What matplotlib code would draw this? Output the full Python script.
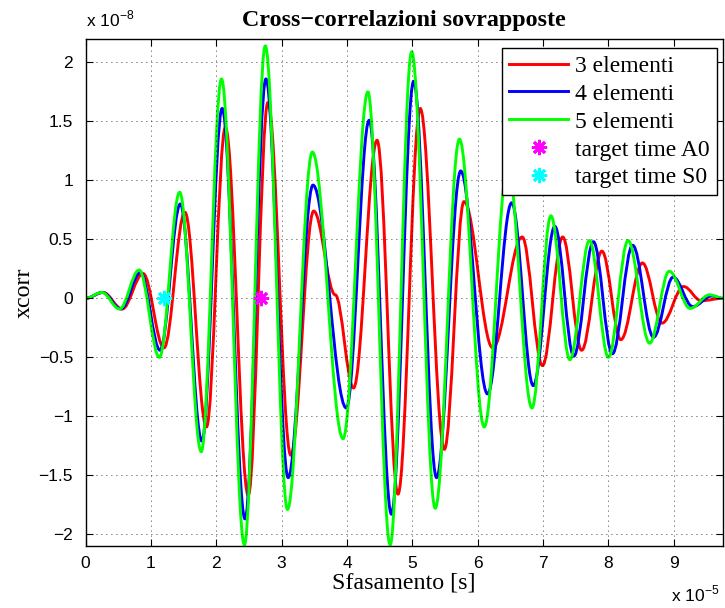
import numpy as np
import matplotlib.pyplot as plt
from matplotlib.path import Path
from matplotlib.patches import PathPatch
from matplotlib.lines import Line2D

# picchi e valli delle cross-correlazioni (x in 1e-5 s, y in 1e-8)
x3 = [0, 0.27, 0.56, 0.88, 1.20, 1.52, 1.85, 2.14, 2.49, 2.79, 3.14, 3.49, 3.82, 4.10, 4.46,
      4.78, 5.12, 5.49, 5.79, 6.23, 6.68, 6.99, 7.30, 7.59, 7.90, 8.19, 8.52, 8.82, 9.15, 9.42, 9.75]
y3 = [0, 0.05, -0.09, 0.21, -0.42, 0.73, -1.09, 1.45, -1.67, 1.66, -1.33, 0.74, 0.03, -0.76, 1.34,
      -1.66, 1.61, -1.28, 0.82, -0.42, 0.52, -0.57, 0.52, -0.44, 0.40, -0.35, 0.30, -0.21, 0.10, -0.02, 0]

x4 = [0, 0.26, 0.54, 0.84, 1.14, 1.45, 1.78, 2.09, 2.44, 2.76, 3.10, 3.48, 3.99, 4.34, 4.68,
      5.02, 5.37, 5.74, 6.15, 6.52, 6.85, 7.18, 7.47, 7.77, 8.06, 8.37, 8.69, 8.99, 9.29, 9.58, 9.75]
y4 = [0, 0.05, -0.09, 0.22, -0.44, 0.80, -1.21, 1.61, -1.87, 1.86, -1.52, 0.96, -0.93, 1.51, -1.83,
      1.84, -1.52, 1.08, -0.81, 0.81, -0.74, 0.61, -0.49, 0.48, -0.47, 0.45, -0.33, 0.18, -0.07, 0.02, 0]

x5 = [0, 0.25, 0.52, 0.82, 1.13, 1.44, 1.77, 2.08, 2.43, 2.75, 3.09, 3.47, 3.94, 4.32, 4.66,
      4.99, 5.35, 5.72, 6.10, 6.46, 6.83, 7.12, 7.41, 7.71, 8.00, 8.30, 8.63, 8.93, 9.25, 9.55, 9.75]
y5 = [0, 0.05, -0.09, 0.24, -0.50, 0.90, -1.30, 1.86, -2.09, 2.14, -1.79, 1.24, -1.19, 1.75, -2.09,
      2.09, -1.78, 1.35, -1.09, 1.12, -0.93, 0.70, -0.52, 0.49, -0.50, 0.49, -0.38, 0.23, -0.085, 0.03, 0]

tA0 = 2.68
tS0 = 1.20

serif = ['Liberation Serif', 'DejaVu Serif']
sans = ['Liberation Sans', 'DejaVu Sans']


def curva(x, y):
    # tratti cubici con tangente orizzontale in ogni picco/valle
    verts = [(x[0], y[0])]
    codes = [Path.MOVETO]
    for i in range(len(x) - 1):
        d = 0.364 * (x[i + 1] - x[i])
        verts += [(x[i] + d, y[i]), (x[i + 1] - d, y[i + 1]), (x[i + 1], y[i + 1])]
        codes += [Path.CURVE4] * 3
    return Path(verts, codes)


fig = plt.figure(figsize=(7.25, 6.08), dpi=100)
ax = fig.add_axes([0.118, 0.102, 0.879, 0.834])

for x, y, c in [(x3, y3, 'red'), (x4, y4, 'blue'), (x5, y5, 'lime')]:
    ax.add_patch(PathPatch(curva(x, y), facecolor='none', edgecolor=c, lw=2.1, capstyle='round'))

ax.plot([tA0], [0], ls='none', marker=(8, 2, 0), ms=11, mew=2, color='magenta', zorder=5)
ax.plot([tS0], [0], ls='none', marker=(8, 2, 0), ms=11, mew=2, color='cyan', zorder=5)

ax.set_xlim(0, 9.75)
ax.set_ylim(-2.1, 2.2)
ax.set_xticks(range(0, 10))
ax.set_yticks([-2, -1.5, -1, -0.5, 0, 0.5, 1, 1.5, 2])
ax.set_yticklabels(['\u22122', '\u22121.5', '\u22121', '\u22120.5', '0', '0.5', '1', '1.5', '2'])
ax.tick_params(direction='in', top=True, right=True, length=5, width=0.8, labelsize=12.5)
ax.tick_params(axis='x', pad=7)
ax.tick_params(axis='y', pad=9)
for lab in ax.get_xticklabels() + ax.get_yticklabels():
    lab.set_family(sans)
for s in ax.spines.values():
    s.set_linewidth(1.0)
ax.grid(True, color='black', ls=(0, (1, 5)), lw=0.6)

ax.set_title('Cross\u2212correlazioni sovrapposte', family=serif, fontsize=17.3, fontweight='bold', pad=9)
ax.set_xlabel('Sfasamento [s]', family=serif, fontsize=17.3, labelpad=1)
ax.set_ylabel('xcorr', family=serif, fontsize=17.3, labelpad=3)

# moltiplicatori degli assi
fig.text(0.118, 0.952, 'x 10$^{\\mathregular{\u22128}}$', family=sans, fontsize=12.5, va='bottom')
fig.text(0.926, 0.006, 'x 10$^{\\mathregular{\u22125}}$', family=sans, fontsize=12.5, va='bottom')

handles = [Line2D([], [], color='red', lw=2.1),
           Line2D([], [], color='blue', lw=2.1),
           Line2D([], [], color='lime', lw=2.1),
           Line2D([], [], ls='none', marker=(8, 2, 0), ms=11, mew=2, color='magenta'),
           Line2D([], [], ls='none', marker=(8, 2, 0), ms=11, mew=2, color='cyan')]
labels = ['3 elementi', '4 elementi', '5 elementi', 'target time A0', 'target time S0']
leg = ax.legend(handles, labels, loc='upper right', bbox_to_anchor=(0.9906, 0.9817), borderaxespad=0,
                prop={'family': serif, 'size': 17}, fancybox=False, framealpha=1, edgecolor='black',
                handlelength=2.5, handletextpad=0.3, labelspacing=0.27, borderpad=0.3, numpoints=1)
leg.get_frame().set_linewidth(1.0)

fig.savefig('out.png', dpi=100)
